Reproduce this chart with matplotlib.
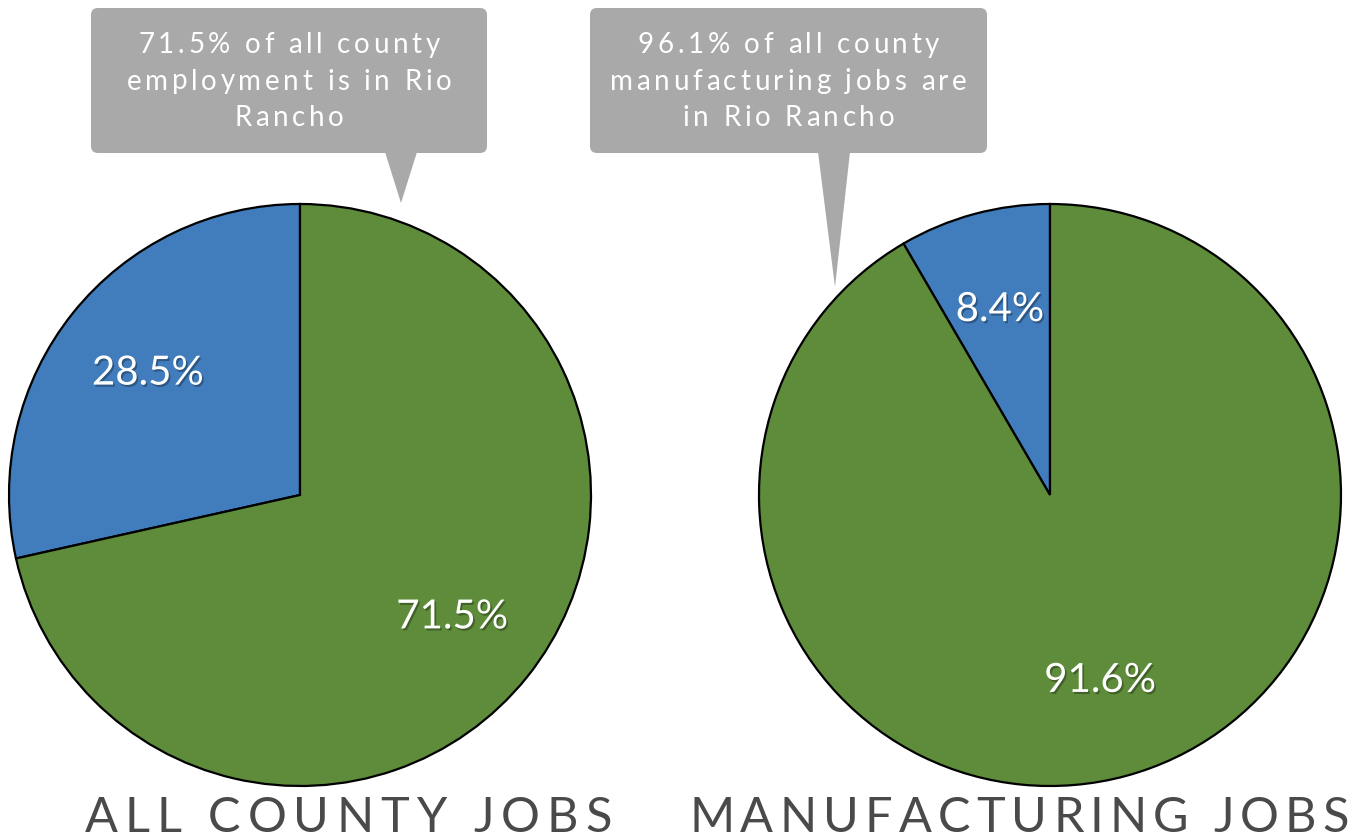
import matplotlib
matplotlib.use("Agg")
import matplotlib.pyplot as plt
import matplotlib.patheffects as pe
from matplotlib.patches import FancyBboxPatch, Polygon
from matplotlib.font_manager import FontProperties, findfont, get_font

# ---- data ----
titles = ["ALL COUNTY JOBS", "MANUFACTURING JOBS"]
shares_all = [28.5, 71.5]          # other cities, Rio Rancho
shares_mfg = [8.4, 91.6]
callouts = [
    ["71.5% of all county", "employment is in Rio", "Rancho"],
    ["96.1% of all county", "manufacturing jobs are", "in Rio Rancho"],
]

BLUE = "#417dbd"
GREEN = "#5e8c3a"
GRAY = "#a9a9a9"
TITLE_C = "#4a4a4a"

W, H = 1371, 838
fig = plt.figure(figsize=(W / 100, H / 100), dpi=100)
ax = fig.add_axes([0, 0, 1, 1])


def Y(y):
    return H - y


def spaced_text(ax, cx, y, text, size, color, tracking=None, width=None,
                family="Lato", weight="normal"):
    """Draw text centred at cx with extra letter spacing (pixels)."""
    fp = FontProperties(family=family, weight=weight, size=size)
    font = get_font(findfont(fp))
    font.set_size(size, 100)
    adv = [font.load_char(ord(c)).linearHoriAdvance / 65536 for c in text]
    if width is not None:
        tracking = (width - sum(adv)) / (len(text) - 1)
    total = sum(adv) + tracking * (len(text) - 1)
    x = cx - total / 2
    for c, a in zip(text, adv):
        ax.text(x, Y(y), c, fontproperties=fp, color=color, ha="left", va="baseline")
        x += a + tracking


def pie(ax, values, center, radius, pctdist):
    wedges, _, autotexts = ax.pie(
        values, colors=[BLUE, GREEN], startangle=90, counterclock=True,
        center=center, radius=radius, autopct="%.1f%%", pctdistance=pctdist,
        wedgeprops=dict(edgecolor="black", linewidth=1.6),
        textprops=dict(color="white", fontsize=29, family="Lato", weight="normal"),
    )
    for t in autotexts:
        t.set_path_effects([
            pe.SimplePatchShadow(offset=(1.2, -1.5), shadow_rgbFace="black", alpha=0.3),
            pe.Normal(),
        ])
    return wedges


pie(ax, shares_all, (300, Y(495)), 291, 0.67)
pie(ax, shares_mfg, (1050, Y(495)), 291, 0.66)


def callout(ax, x0, x1, y0, y1, tip, base, lines):
    box = FancyBboxPatch((x0, Y(y1)), x1 - x0, y1 - y0,
                         boxstyle="round,pad=0,rounding_size=7",
                         facecolor=GRAY, edgecolor="none", zorder=3)
    ax.add_patch(box)
    tri = Polygon([(base[0], Y(y1 - 1)), (base[1], Y(y1 - 1)), (tip[0], Y(tip[1]))],
                  closed=True, facecolor=GRAY, edgecolor="none", zorder=3)
    ax.add_patch(tri)
    cx = (x0 + x1) / 2
    for i, ln in enumerate(lines):
        spaced_text(ax, cx, 53 + 36.5 * i, ln, 20, "white", tracking=3.7)


callout(ax, 91, 487, 8, 153, (401, 203), (385, 417), callouts[0])
callout(ax, 590, 987, 8, 153, (835, 287), (818, 850), callouts[1])

spaced_text(ax, 348, 832, titles[0], 35, TITLE_C, width=527)
spaced_text(ax, 1019, 832, titles[1], 35, TITLE_C, width=660)

ax.set_xlim(0, W)
ax.set_ylim(0, H)
ax.set_aspect("auto")
ax.axis("off")
fig.savefig("out.png", dpi=100)
